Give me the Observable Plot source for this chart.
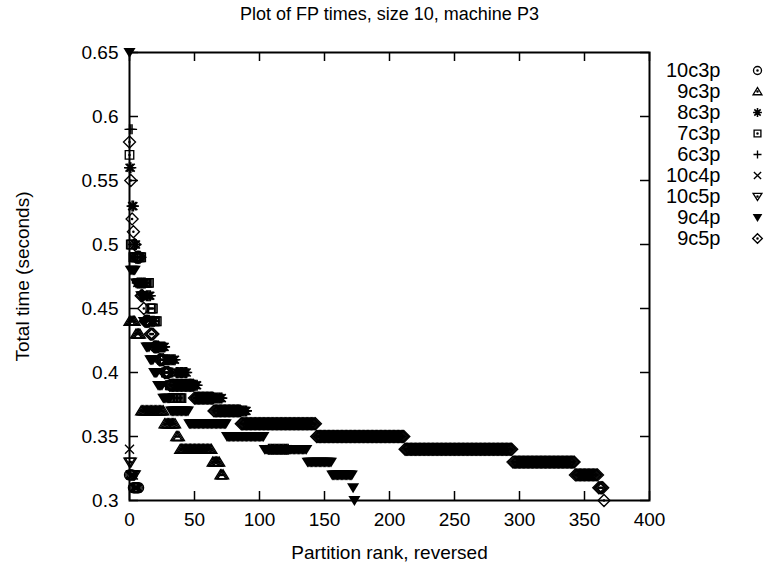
<!DOCTYPE html>
<html><head><meta charset="utf-8">
<script src="https://cdn.jsdelivr.net/npm/d3@7"></script>
<script src="https://cdn.jsdelivr.net/npm/@observablehq/plot@0.6"></script>
<style>body{margin:0;background:#fff}</style>
</head><body><div id="chart"></div>
<script>
// ---- data (run-length per series: time level, number of partitions at that level, in rank order) ----
const seriesNames = ["10c3p","9c3p","8c3p","7c3p","6c3p","10c4p","10c5p","9c4p","9c5p"];
const t_10c3p = [0.32, 0.31];
const n_10c3p = [3, 5];
const t_9c3p = [0.44, 0.43, 0.37, 0.36, 0.35, 0.34, 0.33, 0.32];
const n_9c3p = [5, 4, 18, 9, 3, 25, 6, 3];
const t_8c3p = [0.56, 0.53, 0.50, 0.47, 0.46, 0.44, 0.42, 0.41, 0.40, 0.39, 0.38, 0.37, 0.36, 0.34];
const n_8c3p = [2, 2, 2, 7, 4, 3, 8, 8, 9, 8, 19, 19, 16, 16];
const t_7c3p = [0.57, 0.50, 0.49, 0.47, 0.45, 0.44, 0.42, 0.41, 0.40, 0.39, 0.38];
const n_7c3p = [1, 2, 7, 6, 3, 3, 3, 3, 3, 2, 8];
const t_6c3p = [0.59];
const n_6c3p = [3];
const t_10c4p = [0.34, 0.32, 0.31];
const n_10c4p = [1, 3, 3];
const t_10c5p = [0.33, 0.32];
const n_10c5p = [2, 3];
const t_9c4p = [0.65, 0.48, 0.47, 0.46, 0.44, 0.42, 0.41, 0.40, 0.39, 0.38, 0.37, 0.36, 0.35, 0.34, 0.33, 0.32, 0.31, 0.30];
const n_9c4p = [1, 4, 4, 2, 2, 3, 3, 3, 4, 6, 14, 29, 29, 33, 19, 16, 1, 1];
const t_9c5p = [0.58, 0.55, 0.52, 0.51, 0.50, 0.49, 0.46, 0.45, 0.44, 0.43, 0.42, 0.41, 0.40, 0.39, 0.38, 0.37, 0.36, 0.35, 0.34, 0.33, 0.32, 0.31, 0.30];
const n_9c5p = [1, 1, 1, 1, 1, 4, 2, 1, 4, 3, 4, 4, 4, 19, 15, 21, 58, 68, 83, 48, 18, 4, 1];

const xTicks = [0, 50, 100, 150, 200, 250, 300, 350, 400];
const yTicks = [0.3, 0.35, 0.4, 0.45, 0.5, 0.55, 0.6, 0.65];
const yTickLabels = ["0.3", "0.35", "0.4", "0.45", "0.5", "0.55", "0.6", "0.65"];

const titleText = "Plot of FP times, size 10, machine P3";
const xLabel = "Partition rank, reversed";
const yLabel = "Total time (seconds)";

// ---- expand runs into points (rank, time) ----
function expand(times, counts) {
  const pts = []; let rank = 0;
  times.forEach((t, i) => { for (let k = 0; k < counts[i]; k++) pts.push({rank: rank++, time: t}); });
  return pts;
}
const runs = {
  "10c3p": [t_10c3p, n_10c3p], "9c3p": [t_9c3p, n_9c3p], "8c3p": [t_8c3p, n_8c3p],
  "7c3p": [t_7c3p, n_7c3p], "6c3p": [t_6c3p, n_6c3p], "10c4p": [t_10c4p, n_10c4p],
  "10c5p": [t_10c5p, n_10c5p], "9c4p": [t_9c4p, n_9c4p], "9c5p": [t_9c5p, n_9c5p]
};

// ---- symbols (gnuplot-like) ----
function sym(fn) { return {draw(c, size) { fn(c, Math.sqrt(size / Math.PI)); }}; }
function centerDot(c) { c.moveTo(0.6, 0); c.arc(0, 0, 0.6, 0, 2 * Math.PI); }
const symCircle = sym((c, r) => { c.moveTo(r, 0); c.arc(0, 0, r, 0, 2 * Math.PI); centerDot(c); });
const symTriUp = sym((c, r) => { c.moveTo(0, -r); c.lineTo(r * 1.1, r * 0.8); c.lineTo(-r * 1.1, r * 0.8); c.closePath(); centerDot(c); });
const symAst = sym((c, r) => {
  const d = r * 0.72;
  c.moveTo(-r, 0); c.lineTo(r, 0); c.moveTo(0, -r); c.lineTo(0, r);
  c.moveTo(-d, -d); c.lineTo(d, d); c.moveTo(-d, d); c.lineTo(d, -d);
});
const symSquare = sym((c, r) => { const s = r * 0.85; c.rect(-s, -s, 2 * s, 2 * s); centerDot(c); });
const symPlus = sym((c, r) => { c.moveTo(-r, 0); c.lineTo(r, 0); c.moveTo(0, -r); c.lineTo(0, r); });
const symTimes = sym((c, r) => { const d = r * 0.75; c.moveTo(-d, -d); c.lineTo(d, d); c.moveTo(-d, d); c.lineTo(d, -d); });
const symTriDown = sym((c, r) => { c.moveTo(0, r); c.lineTo(r * 1.1, -r * 0.8); c.lineTo(-r * 1.1, -r * 0.8); c.closePath(); centerDot(c); });
const symTriDownFill = sym((c, r) => { c.moveTo(0, r); c.lineTo(r * 1.1, -r * 0.8); c.lineTo(-r * 1.1, -r * 0.8); c.closePath(); });
const symDiamond = sym((c, r) => { c.moveTo(0, -r); c.lineTo(r, 0); c.lineTo(0, r); c.lineTo(-r, 0); c.closePath(); centerDot(c); });

const styles = {
  "10c3p": {symbol: symCircle, r: 5},
  "9c3p": {symbol: symTriUp, r: 5},
  "8c3p": {symbol: symAst, r: 5.5, sw: 1.6},
  "7c3p": {symbol: symSquare, r: 5},
  "6c3p": {symbol: symPlus, r: 5},
  "10c4p": {symbol: symTimes, r: 6},
  "10c5p": {symbol: symTriDown, r: 5},
  "9c4p": {symbol: symTriDownFill, r: 5.5, filled: true},
  "9c5p": {symbol: symDiamond, r: 6}
};

// ---- layout ----
const W = 770, H = 573, mL = 129, mR = 121, mT = 52, mB = 73;
const frameW = W - mL - mR, frameH = H - mT - mB;
const tickLen = 9;
const legendTop = 70, legendStep = 21;

const marks = [];
marks.push(Plot.ruleX(xTicks, {x: d => d, insetTop: frameH - tickLen, strokeWidth: 1.5}));
marks.push(Plot.ruleX(xTicks, {x: d => d, insetBottom: frameH - tickLen, strokeWidth: 1.5}));
marks.push(Plot.ruleY(yTicks, {y: d => d, insetRight: frameW - tickLen, strokeWidth: 1.5}));
marks.push(Plot.ruleY(yTicks, {y: d => d, insetLeft: frameW - tickLen, strokeWidth: 1.5}));
marks.push(Plot.axisX({ticks: xTicks, tickSize: 0, tickPadding: 12, fontSize: 19, label: null}));
marks.push(Plot.axisY({ticks: yTicks, tickSize: 0, tickPadding: 11, fontSize: 19, label: null,
  tickFormat: d => yTickLabels[yTicks.indexOf(d)]}));

seriesNames.forEach((name, i) => {
  const st = styles[name];
  const paint = st.filled ? {fill: "black", stroke: "none"} : {fill: "none", stroke: "black", strokeWidth: st.sw || 1.35};
  marks.push(Plot.dot(expand(...runs[name]), {x: "rank", y: "time", symbol: st.symbol, r: st.r, ...paint}));
  // legend entry
  const dy = legendTop + i * legendStep - mT;
  marks.push(Plot.text([name], {text: d => d, frameAnchor: "top-right", textAnchor: "end", lineAnchor: "middle", dx: 71, dy, fontSize: 20}));
  marks.push(Plot.dot([name], {frameAnchor: "top-right", dx: 108, dy, symbol: st.symbol, r: st.r * 0.8, ...paint}));
});

marks.push(Plot.frame({stroke: "black", strokeWidth: 2}));
marks.push(Plot.text([titleText], {text: d => d, frameAnchor: "top", textAnchor: "middle", lineAnchor: "middle", dy: -38, fontSize: 18}));
marks.push(Plot.text([xLabel], {text: d => d, frameAnchor: "bottom", textAnchor: "middle", lineAnchor: "middle", dy: 52, fontSize: 19}));
marks.push(Plot.text([yLabel], {text: d => d, frameAnchor: "left", textAnchor: "middle", lineAnchor: "middle", dx: -107, rotate: -90, fontSize: 19}));

const chart = Plot.plot({
  width: W, height: H,
  marginLeft: mL, marginRight: mR, marginTop: mT, marginBottom: mB,
  style: {fontFamily: "'Liberation Sans', Arial, Helvetica, sans-serif", color: "black", background: "white"},
  x: {domain: [0, 400]},
  y: {domain: [0.3, 0.65]},
  marks
});
document.getElementById("chart").appendChild(chart);
</script>
</body></html>
